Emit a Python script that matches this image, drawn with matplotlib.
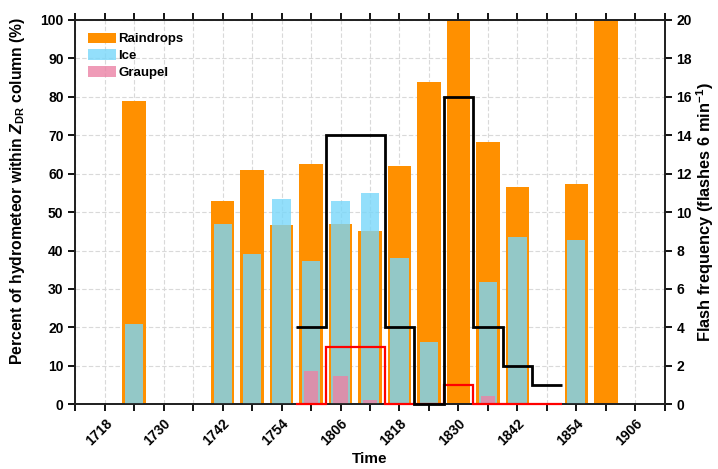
import numpy as np
import matplotlib.pyplot as plt

plt.rcParams['font.family'] = 'Liberation Sans'
plt.rcParams['font.weight'] = 'bold'
plt.rcParams['axes.labelweight'] = 'bold'
plt.rcParams['mathtext.fontset'] = 'custom'
plt.rcParams['mathtext.rm'] = 'Liberation Sans:bold'
plt.rcParams['mathtext.it'] = 'Liberation Sans:bold:italic'
plt.rcParams['mathtext.bf'] = 'Liberation Sans:bold'

# 6-min volume scans
times = ['1718', '1724', '1730', '1736', '1742', '1748', '1754', '1800', '1806', '1812',
         '1818', '1824', '1830', '1836', '1842', '1848', '1854', '1900', '1906']

# hydrometeor fractions inside the ZDR column (%)
raindrops = [0, 79.0, 0, 0, 53.0, 61.0, 46.7, 62.6, 47.0, 45.0,
             62.0, 83.8, 100, 68.2, 56.5, 0, 57.2, 100, 0]
ice = [0, 20.9, 0, 0, 47.0, 39.0, 53.3, 37.3, 53.0, 55.0,
       38.0, 16.3, 0, 31.7, 43.5, 0, 42.8, 0, 0]
graupel = [0, 0, 0, 0, 0, 0, 0, 8.7, 7.4, 1.0,
           0, 0, 0, 2.1, 0, 0, 0, 0, 0]

# lightning (flashes per 6 min), scans 1800-1848
flash_times = ['1800', '1806', '1812', '1818', '1824', '1830', '1836', '1842', '1848']
flash_total = [4, 14, 14, 4, 0, 16, 4, 2, 1]
flash_cg = [0, 3, 3, 0, 0, 1, 0, 0, 0]

x = np.arange(1, len(times) + 1)

fig = plt.figure(figsize=(7.18, 4.69), dpi=100)
ax = fig.add_axes([0.1049, 0.138, 0.8209, 0.8194])

ax.bar(x, raindrops, width=0.8, color='#FF9000', label='Raindrops', zorder=2)
ax.bar(x, ice, width=0.62, color='#78D7FA', alpha=0.8, label='Ice', zorder=3)
ax.bar(x, graupel, width=0.5, color='#EB82A5', alpha=0.8, label='Graupel', zorder=4)

ax.set_xlim(0, 20)
ax.set_ylim(0, 100)
ax.set_xticks(np.arange(0, 21))
xlabels = ['']
for i, t in enumerate(times):
    xlabels.append(t if i % 2 == 0 else '')
xlabels.append('')
ax.set_xticklabels(xlabels, rotation=45, ha='right', rotation_mode='anchor')
ax.set_yticks(np.arange(0, 101, 10))
ax.grid(True, ls='--', color='#D9D9D9', lw=0.8, dashes=(4, 2))
ax.set_axisbelow(True)
ax.tick_params(direction='out', length=5, width=1.3, labelsize=10, top=True)
for s in ax.spines.values():
    s.set_linewidth(1.3)
    s.set_color('#222222')

ax.set_xlabel('Time', fontsize=11, labelpad=3)
ax.set_ylabel(r'Percent of hydrometeor within $\mathit{Z}_{\mathrm{DR}}$ column (%)', fontsize=11.3)
ax.yaxis.set_label_coords(-0.082, 0.555)

ax2 = ax.twinx()
ax2.set_ylim(0, 20)
ax2.set_yticks(np.arange(0, 21, 2))
ax2.tick_params(direction='out', length=5, width=1.3, labelsize=10)
for s in ax2.spines.values():
    s.set_linewidth(1.3)
    s.set_color('#222222')

fpos = np.array([times.index(t) + 1 for t in flash_times])
edges = np.append(fpos - 0.5, fpos[-1] + 0.5)
ax2.stairs(flash_cg, edges, baseline=None, color='red', lw=1.6, clip_on=False, zorder=5)
ax2.stairs(flash_total, edges, baseline=None, color='black', lw=2, clip_on=False, zorder=6)
ax2.set_ylabel(r'Flash frequency (flashes 6 min$^{-1}$)', fontsize=11.8)
ax2.yaxis.set_label_coords(1.05, 0.5)

ax.legend(loc='upper left', bbox_to_anchor=(0.0, 1.0), frameon=False, fontsize=9.5,
          handlelength=2.1, handleheight=0.85, handletextpad=0.2, labelspacing=0.3,
          borderaxespad=0.55)

fig.savefig('out.png', dpi=100)
